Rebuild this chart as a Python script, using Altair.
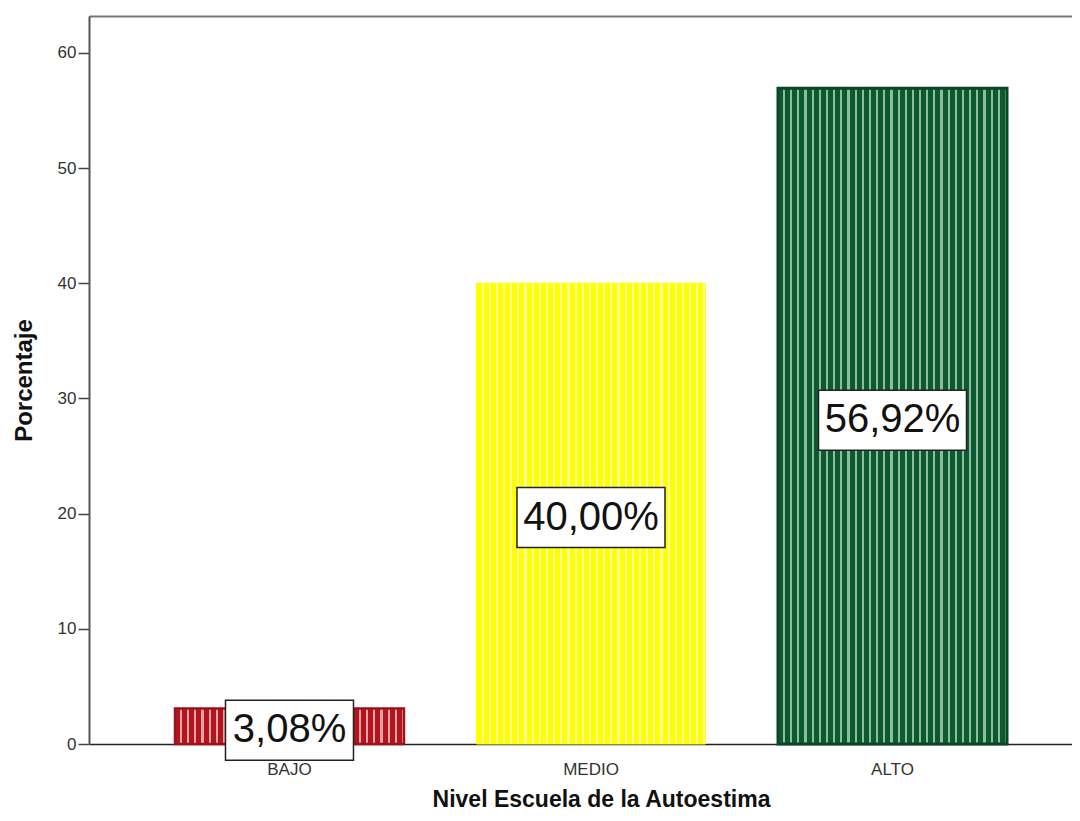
import altair as alt
import pandas as pd

categories = ["BAJO", "MEDIO", "ALTO"]
percentages = [3.08, 40.00, 56.92]
labels = ["3,08%", "40,00%", "56,92%"]

FONT = "Liberation Sans"

df = pd.DataFrame({"cat": categories, "pct": percentages, "lab": labels})


def stripes(dark, light, n=32, frac=0.7):
    stops = []
    for k in range(n):
        a = round(k / n, 5)
        b = round((k + frac) / n, 5)
        c = round((k + 1) / n, 5)
        stops += [
            alt.GradientStop(color=dark, offset=a),
            alt.GradientStop(color=dark, offset=b),
            alt.GradientStop(color=light, offset=b),
            alt.GradientStop(color=light, offset=c),
        ]
    return alt.LinearGradient(gradient="linear", stops=stops, x1=0, x2=1, y1=0, y2=0)


bar_styles = {
    "BAJO": dict(fill=stripes("#b3151f", "#e8a3a6"), stroke="#a0101a", strokeWidth=2.5),
    "MEDIO": dict(fill=stripes("#ffff00", "#ffff9a"), stroke="#ffff00", strokeWidth=1),
    "ALTO": dict(fill=stripes("#0e5a30", "#8fbb9f"), stroke="#0a4726", strokeWidth=3),
}

# label box shapes (unit paths scaled by sqrt(size)/2)
BOX_SIZE = 150
box_paths = []
for lab in labels:
    w = 20 * len(lab) + 28
    hx = round(w / BOX_SIZE, 4)
    hy = round(30 / (BOX_SIZE / 2), 4)
    box_paths.append(f"M{-hx},{-hy}L{hx},{-hy}L{hx},{hy}L{-hx},{hy}Z")

xscale = alt.Scale(domain=categories, paddingInner=0.2405, paddingOuter=0.2504, align=0.5695)
yscale = alt.Scale(domain=[0, 63.2], nice=False, zero=True)

bottom_axis = alt.Axis(
    orient="bottom", title="Nivel Escuela de la Autoestima", ticks=False,
    labelAngle=0, labelFont=FONT, labelFontSize=17, labelColor="#333333",
    labelPadding=17, domainColor="#222222", domainWidth=1.5,
    titleFont=FONT, titleFontSize=23, titleFontWeight="bold", titleColor="#111111",
    titlePadding=11, titleX=512,
)
top_axis = alt.Axis(
    orient="top", title=None, labels=False, ticks=False,
    domainColor="#777777", domainWidth=2,
)
y_axis = alt.Axis(
    orient="left", title="Porcentaje", values=[0, 10, 20, 30, 40, 50, 60], grid=False,
    domainColor="#555555", domainWidth=2, tickColor="#444444", tickWidth=1.5,
    tickSize=11, labelPadding=2, labelFont=FONT, labelFontSize=17,
    labelColor="#333333", titleFont=FONT, titleFontSize=24,
    titleFontWeight="bold", titleColor="#111111", titlePadding=21,
)

base = alt.Chart(df)

layers = []
for i, c in enumerate(categories):
    if i == 0:
        xenc = alt.X("cat:N", scale=xscale, axis=bottom_axis)
    elif i == 1:
        xenc = alt.X("cat:N", scale=xscale, axis=top_axis)
    else:
        xenc = alt.X("cat:N", scale=xscale, axis=None)
    yenc = alt.Y("pct:Q", scale=yscale, axis=y_axis)
    layers.append(
        base.transform_filter(alt.datum.cat == c)
        .mark_bar(**bar_styles[c])
        .encode(x=xenc, y=yenc)
    )

boxes = (
    base.transform_calculate(mid="datum.pct / 2")
    .mark_point(filled=True, fill="white", stroke="#222222", strokeWidth=1.5,
                opacity=1, size=BOX_SIZE * BOX_SIZE, yOffset=4)
    .encode(
        x=alt.X("cat:N", scale=xscale, axis=None),
        y=alt.Y("mid:Q", scale=yscale, axis=y_axis),
        shape=alt.Shape("cat:N", scale=alt.Scale(domain=categories, range=box_paths), legend=None),
    )
)

texts = (
    base.transform_calculate(mid="datum.pct / 2")
    .mark_text(font=FONT, fontSize=40, color="#111111", baseline="middle", dy=4)
    .encode(
        x=alt.X("cat:N", scale=xscale, axis=None),
        y=alt.Y("mid:Q", scale=yscale, axis=y_axis),
        text="lab:N",
    )
)

chart = (
    alt.layer(*layers, boxes, texts)
    .properties(
        width=983, height=728,
        autosize=alt.AutoSizeParams(type="none"),
        padding={"left": 81, "top": 8, "right": 0, "bottom": 69},
    )
    .configure_view(stroke=None)
    .configure(background="white")
)

chart.save("out.html", embed_options={"renderer": "svg", "actions": False})
